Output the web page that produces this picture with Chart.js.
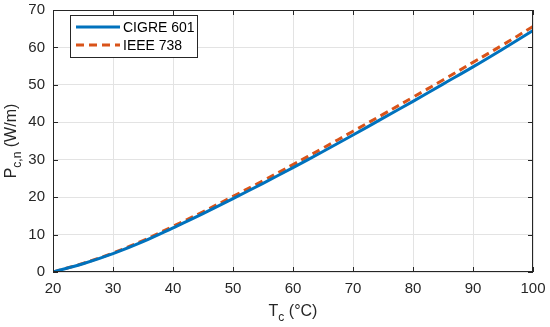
<!DOCTYPE html>
<html>
<head>
<meta charset="utf-8">
<script src="https://cdn.jsdelivr.net/npm/chart.js@4.4.1/dist/chart.umd.min.js"></script>
<style>
  html, body { margin: 0; padding: 0; background: #fff; }
  #wrap { width: 550px; height: 327px; }
</style>
</head>
<body>
<div id="wrap"><canvas id="chart" width="550" height="327"></canvas></div>
<script>
// conductor temperature (°C)
const temps = [20, 25, 30, 35, 40, 45, 50, 55, 60, 65, 70, 75, 80, 85, 90, 95, 100];
// P_c,n (W/m)
const cigre601 = [0, 2.2, 4.9, 8.1, 11.8, 15.6, 19.6, 23.7, 27.9, 32.2, 36.6, 41.1, 45.6, 50.2, 54.8, 59.6, 64.5];
const ieee738 = [0, 2.3, 5.1, 8.4, 12.2, 16.1, 20.2, 24.4, 28.7, 33.1, 37.6, 42.1, 46.7, 51.3, 56.0, 60.7, 65.6];
const seriesNames = ['CIGRE 601', 'IEEE 738'];

const FONT = '"Liberation Sans", Arial, Helvetica, sans-serif';
const axisColor = '#262626';

function toPoints(ys) {
  return temps.map((t, i) => ({ x: t, y: ys[i] }));
}

// draw text with a subscript part
function drawSub(ctx, base, sub, rest, size) {
  ctx.font = size + 'px ' + FONT;
  const w1 = ctx.measureText(base).width;
  ctx.font = Math.round(size * 0.75) + 'px ' + FONT;
  const w2 = ctx.measureText(sub).width;
  ctx.font = size + 'px ' + FONT;
  const w3 = ctx.measureText(rest).width;
  let x = -(w1 + w2 + w3) / 2;
  ctx.textAlign = 'left';
  ctx.textBaseline = 'middle';
  ctx.fillText(base, x, 0);
  x += w1;
  ctx.font = Math.round(size * 0.75) + 'px ' + FONT;
  ctx.fillText(sub, x, size * 0.38);
  x += w2;
  ctx.font = size + 'px ' + FONT;
  ctx.fillText(rest, x, 0);
}

const decorations = {
  id: 'decorations',
  afterDraw(chart) {
    const ctx = chart.ctx;
    const a = chart.chartArea;
    const xs = chart.scales.x, ys = chart.scales.y;
    ctx.save();

    // box
    ctx.strokeStyle = axisColor;
    ctx.lineWidth = 1;
    ctx.strokeRect(a.left + 0.5, a.top + 0.5, a.right - a.left - 1, a.bottom - a.top - 1);

    // inward ticks on all four sides
    ctx.beginPath();
    xs.ticks.forEach(t => {
      const px = Math.round(xs.getPixelForValue(t.value)) + 0.5;
      ctx.moveTo(px, a.bottom); ctx.lineTo(px, a.bottom - 5);
      ctx.moveTo(px, a.top); ctx.lineTo(px, a.top + 5);
    });
    ys.ticks.forEach(t => {
      const py = Math.round(ys.getPixelForValue(t.value)) + 0.5;
      ctx.moveTo(a.left, py); ctx.lineTo(a.left + 5, py);
      ctx.moveTo(a.right, py); ctx.lineTo(a.right - 5, py);
    });
    ctx.stroke();

    // axis titles
    ctx.fillStyle = '#262626';
    ctx.save();
    ctx.translate((a.left + a.right) / 2, 312);
    drawSub(ctx, 'T', 'c', ' (°C)', 16);
    ctx.restore();

    ctx.save();
    ctx.translate(12, (a.top + a.bottom) / 2);
    ctx.rotate(-Math.PI / 2);
    drawSub(ctx, 'P', 'c,n', ' (W/m)', 16);
    ctx.restore();

    // legend
    const lx = 70, ly = 15, lw = 127, lh = 42;
    ctx.fillStyle = '#fff';
    ctx.fillRect(lx, ly, lw, lh);
    ctx.strokeStyle = axisColor;
    ctx.strokeRect(lx + 0.5, ly + 0.5, lw, lh);
    chart.data.datasets.forEach((ds, i) => {
      const y = ly + 12 + i * 18;
      ctx.strokeStyle = ds.borderColor;
      ctx.lineWidth = ds.borderWidth;
      ctx.setLineDash(ds.borderDash || []);
      ctx.beginPath();
      ctx.moveTo(lx + 6, y);
      ctx.lineTo(lx + 50, y);
      ctx.stroke();
      ctx.setLineDash([]);
      ctx.fillStyle = '#000';
      ctx.font = '14px ' + FONT;
      ctx.textAlign = 'left';
      ctx.textBaseline = 'middle';
      ctx.fillText(ds.label, lx + 53, y + 1);
    });

    ctx.restore();
  }
};

new Chart(document.getElementById('chart'), {
  type: 'line',
  data: {
    datasets: [
      {
        label: seriesNames[0],
        data: toPoints(cigre601),
        borderColor: '#0072BD',
        borderWidth: 3,
        pointRadius: 0,
        tension: 0.4,
        fill: false
      },
      {
        label: seriesNames[1],
        data: toPoints(ieee738),
        borderColor: '#D95319',
        borderWidth: 3,
        borderDash: [8, 5],
        pointRadius: 0,
        tension: 0.4,
        fill: false
      }
    ]
  },
  options: {
    responsive: false,
    animation: false,
    layout: { padding: { top: 10, right: 17, left: 0, bottom: 0 } },
    plugins: {
      legend: { display: false },
      tooltip: { enabled: false }
    },
    scales: {
      x: {
        type: 'linear',
        min: 20,
        max: 100,
        ticks: {
          stepSize: 10,
          padding: 8,
          color: '#262626',
          font: { family: FONT, size: 15 }
        },
        grid: { color: '#e3e3e3', drawTicks: false },
        border: { display: false },
        afterFit(scale) {
          scale.height = 55;
          scale.paddingLeft = 0;
          scale.paddingRight = 0;
        }
      },
      y: {
        min: 0,
        max: 70,
        ticks: {
          stepSize: 10,
          padding: 8,
          color: '#262626',
          font: { family: FONT, size: 15 }
        },
        grid: { color: '#e3e3e3', drawTicks: false },
        border: { display: false },
        afterFit(scale) {
          scale.width = 53;
          scale.paddingTop = 0;
          scale.paddingBottom = 0;
        }
      }
    }
  },
  plugins: [decorations]
});
</script>
</body>
</html>
